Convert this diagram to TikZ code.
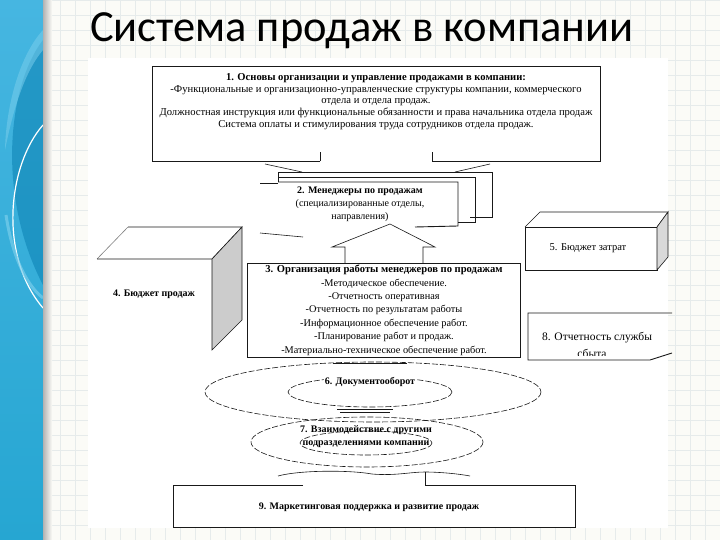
\documentclass[tikz,border=0pt]{standalone}
\usepackage{fontspec}
\setmainfont{Liberation Serif}
\newfontfamily\titlefont{Carlito}
\usetikzlibrary{positioning, calc}
\definecolor{colStripe}{RGB}{38,166,210}
\definecolor{colStripeTop}{RGB}{70,182,225}
\definecolor{colStripeDark}{RGB}{10,128,178}
\definecolor{colStripeLight}{RGB}{120,205,235}
\definecolor{colGrid}{RGB}{230,235,235}
\definecolor{colPaper}{RGB}{251,251,247}
\definecolor{colLine}{RGB}{25,25,25}
\definecolor{colSide}{RGB}{204,204,204}
\tikzset{
  boxLine/.style={draw=colLine, line width=0.9pt},
  thinLine/.style={draw=colLine, line width=0.6pt},
  dashEll/.style={draw=colLine, line width=0.6pt, dash pattern=on 6pt off 2pt},
  sideFace/.style={fill=colSide, draw=colLine, line width=0.6pt},
  bodyText/.style={align=center, inner sep=0pt, font=\fontsize{10.6}{11.8}\selectfont},
  listText/.style={align=center, inner sep=0pt, font=\fontsize{10.3}{13.4}\selectfont},
  headText/.style={align=center, inner sep=0pt, font=\fontsize{10}{13}\selectfont\bfseries}
}
\begin{document}
\begin{tikzpicture}[x=1pt, y=-1pt]
  \useasboundingbox (0,0) rectangle (720,540);

  % slide background
  \fill[colPaper] (0,0) rectangle (720,540);
  \draw[colGrid, line width=0.5pt, step=15pt] (52,0) grid (720,540);
  \shade[top color=colStripeTop, bottom color=colStripe] (0,0) rectangle (43,540);
  \fill[colStripeDark, opacity=0.55] (43,40) .. controls (8,85) and (-4,195) .. (43,285) -- cycle;
  \fill[colStripeLight, opacity=0.55] (43,30) .. controls (20,55) and (6,105) .. (5,150) .. controls (14,105) and (26,70) .. (43,50) -- cycle;
  \draw[white, line width=1.2pt] (43,125) .. controls (8,165) and (-2,255) .. (43,308);
  \draw[colStripeLight, opacity=0.7, line width=3pt] (6,215) .. controls (12,255) and (26,285) .. (43,298);
  \shade[left color=black!30, right color=colPaper] (43,0) rectangle (52,540);

  % title
  \node[anchor=base west, inner sep=0pt, font=\titlefont\fontsize{44.5}{44.5}\selectfont] (title) at (90,42) {Система продаж в компании};

  % scanned panel
  \fill[white] (88,58) rectangle (668,528);

  % box 1
  \draw[boxLine] (320,161) -- (152,161) -- (152,66) -- (600,66) -- (600,161) -- (432,161);
  \draw[thinLine] (320,161) -- (320,152);
  \draw[thinLine] (432,161) -- (432,152);
  \draw[thinLine] (265,164) -- (302,172);
  \draw[thinLine] (490,164) -- (455,172);
  \node[bodyText, anchor=north] (b1) at (376,73) {{\bfseries 1. Основы организации и управление продажами в компании:}\\
    -Функциональные и организационно-управленческие структуры компании, коммерческого\\
    отдела и отдела продаж.\\
    Должностная инструкция или функциональные обязанности и права начальника отдела продаж\\
    Система оплаты и стимулирования труда сотрудников отдела продаж.};

  % box 2 (stacked sheets)
  \draw[thinLine] (278,172) -- (492,172) -- (492,217) -- (470,217);
  \draw[thinLine] (278,177) -- (475,177) -- (475,222) -- (458,222);
  \draw[thinLine] (260,183) -- (278,183) -- (278,172);
  \fill[white] (278,182) rectangle (458,226);
  \draw[boxLine] (278,182) -- (458,182) -- (458,226) -- (415,227);
  \node[headText, anchor=north] (b2) at (360,187) {2. Менеджеры по продажам\\
    {\mdseries (специализированные отделы,}\\ {\mdseries направления)}};

  % arrow between box 3 and box 2
  \draw[thinLine] (345,263) -- (345,247) -- (332,247) -- (390,224) -- (435,247) -- (423,247) -- (423,263);
  \draw[thinLine] (260,233) -- (303,237);

  % box 3
  \draw[boxLine] (247,263) rectangle (520,357);
  \node[listText, anchor=north] (b3) at (384,265) {{\bfseries\fontsize{10.6}{13.4}\selectfont 3. Организация работы менеджеров по продажам}\\
    -Методическое обеспечение.\\
    -Отчетность оперативная\\
    -Отчетность по результатам работы\\
    -Информационное обеспечение работ.\\
    -Планирование работ и продаж.\\
    -Материально-техническое обеспечение работ.};

  % box 4 (3D)
  \draw[thinLine, draw=colLine!55] (97,259) -- (128,227);
  \draw[thinLine] (128,227) -- (242,227) -- (212,259) -- (97,259);
  \filldraw[sideFace] (212,259) -- (242,227) -- (242,320) -- (212,350) -- cycle;
  \node[headText] (b4) at (154,294) {4. Бюджет продаж};

  % box 5 (3D)
  \draw[thinLine] (525,227) rectangle (657,270);
  \draw[thinLine] (525,227) -- (540,212) -- (668,212) -- (657,227);
  \filldraw[sideFace, fill=colSide!75] (657,227) -- (668,212) -- (668,257) -- (657,270) -- cycle;
  \node[inner sep=0pt, font=\fontsize{10.5}{12}\selectfont] (b5) at (588,248) {5. Бюджет затрат};

  % box 8
  \begin{scope}
    \clip (528,313) rectangle (672,355);
    \node[inner sep=0pt, font=\fontsize{11.5}{13}\selectfont, anchor=base] (b8a) at (597,340) {8. Отчетность службы};
    \node[inner sep=0pt, font=\fontsize{11.5}{13}\selectfont, anchor=base] (b8b) at (592,357) {сбыта};
  \end{scope}
  \draw[boxLine] (672,313) -- (528,313) -- (528,360) -- (650,360) -- (672,353);

  % ellipses 6 and 7
  \draw[dashEll] (373,392) ellipse [x radius=168, y radius=30];
  \draw[dashEll] (370,392) ellipse [x radius=82, y radius=15];
  \draw[dashEll] (367,442) ellipse [x radius=116, y radius=25];
  \draw[dashEll] (366,443) ellipse [x radius=66, y radius=12];
  \draw[thinLine] (333,363) -- (407,363);
  \draw[thinLine] (337,409) -- (393,409);
  \draw[thinLine] (340,412) -- (390,412);
  \node[headText, fill=white, inner sep=1pt] (e6) at (370,382) {6. Документооборот};
  \node[headText, anchor=north] (e7) at (366,425) {7. Взаимодействие с другими\\ подразделениями компании};

  % box 9
  \draw[thinLine] (278,476) .. controls (300,470) and (350,470) .. (372,474) .. controls (395,476) and (410,472) .. (425,472) .. controls (440,472) and (460,474) .. (470,476);
  \draw[boxLine] (303,485) -- (173,485) -- (173,527) -- (575,527) -- (575,485) -- (425,485) -- (425,472);
  \node[headText] (b9) at (369,507) {9. Маркетинговая поддержка и развитие продаж};

\end{tikzpicture}
\end{document}
